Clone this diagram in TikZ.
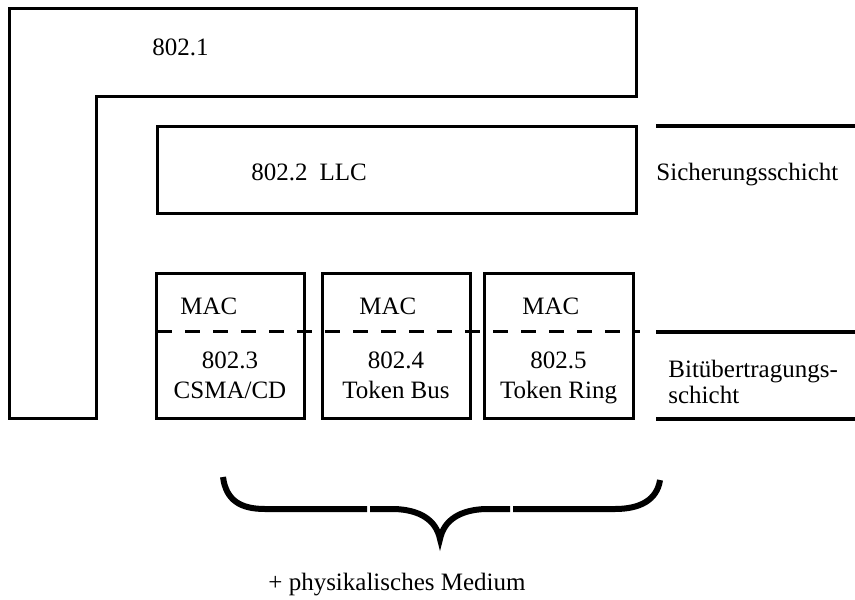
\documentclass[tikz,border=0pt]{standalone}
\usepackage{fontspec}
\setmainfont{Liberation Serif}
\begin{document}
\begin{tikzpicture}[x=0.5pt,y=-0.5pt,font=\fontsize{12.5}{15}\selectfont,
	box/.style={line width=1.5pt},
	rule/.style={line width=1.8pt},
	brace/.style={line width=3pt},
	lbl/.style={anchor=base west,inner sep=0pt},
	stack/.style={anchor=base,inner sep=0pt}]
\useasboundingbox (0,0) rectangle (855,599);
% 802.1 frame
\draw [box] (9,9) -- (636,9) -- (636,97) -- (96,97) -- (96,418) -- (9,418) -- cycle;
\node[lbl] (std1) at (152,56) {802.1};
% LLC
\draw [box] (157,126) rectangle (636,213);
\node[lbl] (llc) at (251,180) {802.2\hspace{6pt}LLC};
% MAC boxes
\foreach \i/\l/\r/\m/\num/\txt in {3/156/304/180/802.3/{CSMA/CD},
		4/322/470/359/802.4/{Token Bus},5/484/633/522/802.5/{Token Ring}}
{
	\draw [box] (\l,273) rectangle (\r,418);
	\node[lbl] (mac\i) at (\m,314) {MAC};
	\node[stack] (num\i) at ({(\l+\r)/2},368) {\num};
	\node[stack] (typ\i) at ({(\l+\r)/2},398) {\txt};
}
\draw [box,dash pattern=on 7.5pt off 6.5pt] (157,331) -- (640,331);
% layers
\coordinate (s1) at (656,126);
\coordinate (s2) at (656,332);
\coordinate (s3) at (656,419);
\foreach \p in {s1,s2,s3}
	\draw [rule] (\p) -- ++(199,0);
\node[lbl] (sich) at (656,180) {Sicherungsschicht};
\node[lbl] (bit1) at (668,377) {Bitübertragungs-};
\node[lbl] (bit2) at (668,403) {schicht};
% brace
\coordinate (tip) at (440,539);
\draw [brace] (223,477) .. controls (226,500) and (240,509) .. (265,509) -- (367,509);
\draw [brace] (660,480) .. controls (657,500) and (640,509) .. (615,509) -- (513,509);
\draw [brace,line join=miter] (370,509) -- (395,509) .. controls (420,510) and (436,520) .. (tip)
	.. controls (444,520) and (460,510) .. (485,509) -- (510,509);
\node[lbl] (med) at (268,590) {+ physikalisches Medium};
\end{tikzpicture}
\end{document}
